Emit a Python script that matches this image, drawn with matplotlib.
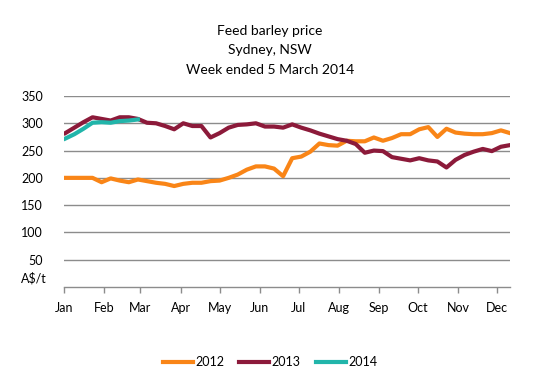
import matplotlib
matplotlib.use("Agg")
import matplotlib.pyplot as plt
import numpy as np

plt.rcParams['font.family'] = ['Lato', 'DejaVu Sans']

# Day-of-year positions of month starts (x-axis categories)
months = ["Jan", "Feb", "Mar", "Apr", "May", "Jun", "Jul", "Aug", "Sep", "Oct", "Nov", "Dec"]
month_start_day = [0, 31, 59, 90, 120, 151, 181, 212, 243, 273, 304, 334]

# Weekly prices (A$/t)
price_2012 = [200, 200, 200, 200, 192, 199, 195, 192, 197, 194,
              191, 189, 185, 189, 191, 191, 194, 195, 200, 206,
              215, 221, 221, 217, 203, 236, 239, 248, 263, 260,
              259, 268, 267, 267, 274, 268, 273, 280, 280, 289,
              293, 275, 290, 283, 281, 280, 280, 282, 287, 282]
price_2013 = [282, 292, 302, 311, 308, 305, 311, 311, 308, 301,
              300, 295, 289, 300, 295, 295, 274, 282, 292, 297,
              298, 300, 294, 294, 292, 298, 292, 287, 281, 276,
              271, 268, 262, 246, 250, 249, 238, 235, 232, 236,
              232, 230, 219, 233, 242, 248, 253, 249, 257, 260]
price_2014 = [272, 280, 290, 301, 302, 301, 304, 305, 307]

def week_days(n):
    return np.arange(n) * 7 + 1

fig = plt.figure(figsize=(5.37, 3.88), dpi=100)
ax = fig.add_axes([64/537, 1-287/388, (510-64)/537, (287-96)/388])

c12, c13, c14 = "#F98517", "#8C1A3A", "#21B5AA"
ax.plot(week_days(len(price_2012)), price_2012, color=c12, lw=3, label="2012", solid_joinstyle='round')
ax.plot(week_days(len(price_2013)), price_2013, color=c13, lw=3, label="2013", solid_joinstyle='round')
ax.plot(week_days(len(price_2014)), price_2014, color=c14, lw=3, label="2014", solid_joinstyle='round')

ax.set_xlim(0, 344)
ax.set_ylim(0, 350)
ax.set_yticks([50, 100, 150, 200, 250, 300, 350])
ax.yaxis.grid(True, color="#8c8c8c", lw=1)
ax.set_axisbelow(True)
ax.tick_params(axis='y', length=0, pad=15, labelsize=9, colors="#000000")
ax.set_xticks(month_start_day)
ax.set_xticklabels(months)
ax.tick_params(axis='x', length=4, width=1, color="#8c8c8c", pad=7, labelsize=9)
for s in ["top", "right", "left"]:
    ax.spines[s].set_visible(False)
ax.spines["bottom"].set_color("#8c8c8c")
ax.spines["bottom"].set_linewidth(1)

ax.text(-17/446*344, 5, "A$/t", ha="right", va="bottom", fontsize=9, transform=ax.transData, clip_on=False)

fig.text(270/537, 1-31/388, "Feed barley price", ha="center", va="center", fontsize=10)
fig.text(270/537, 1-50/388, "Sydney, NSW", ha="center", va="center", fontsize=10)
fig.text(270/537, 1-70/388, "Week ended 5 March 2014", ha="center", va="center", fontsize=10)

fig.legend(loc="center", bbox_to_anchor=(270/537, 1-362/388), ncol=3, frameon=False,
           fontsize=9, handlelength=2.4, handletextpad=0.2, columnspacing=1.2)

fig.savefig("out.png", dpi=100)
